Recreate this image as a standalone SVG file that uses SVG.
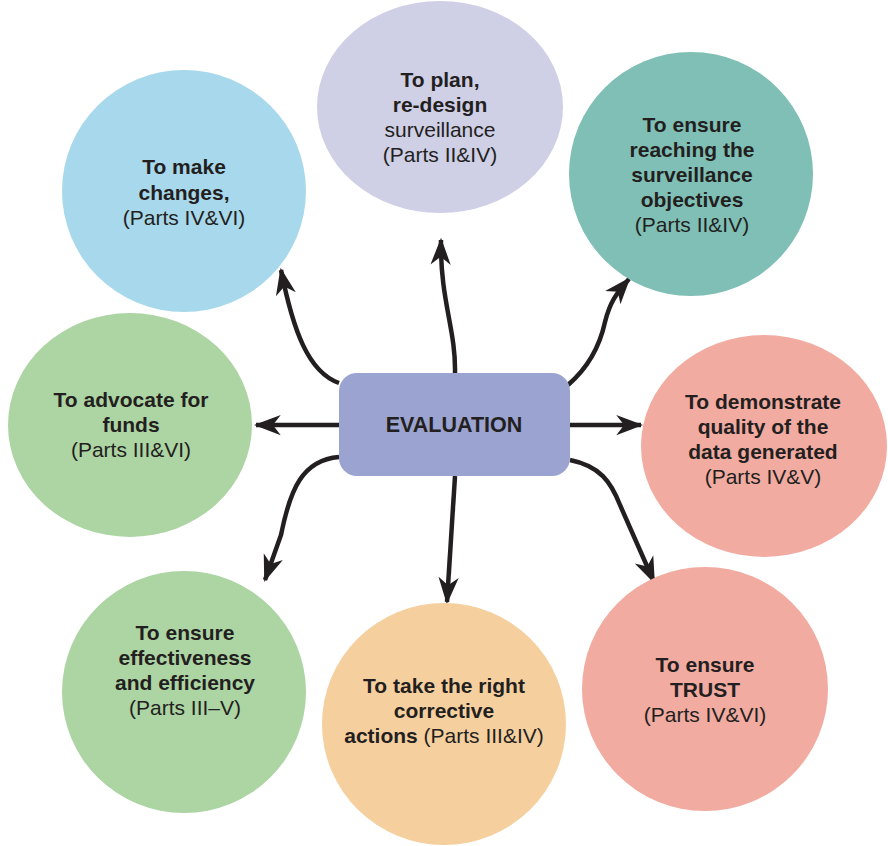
<svg xmlns="http://www.w3.org/2000/svg" width="888" height="846" viewBox="0 0 888 846">
<style>
text{font-family:"Liberation Sans",Arial,Helvetica,sans-serif;font-size:21px;fill:#231f20;text-anchor:middle}
.b{font-weight:bold}
.e{font-size:21.5px}
.c{stroke:#231f20;stroke-width:4.5;fill:none;marker-end:url(#ah)}
</style>
<defs>
<marker id="ah" viewBox="0 0 12 10" refX="11" refY="5" markerWidth="27" markerHeight="22.5" markerUnits="userSpaceOnUse" orient="auto">
<path d="M0,0.5 L12,5 L0,9.5 L3.5,5 Z" fill="#231f20"/>
</marker>
</defs>
<rect width="888" height="846" fill="#fff"/>
<g id="connectors">
<path class="c" d="M339,383 C308,372 293,330 281,270"/>
<path class="c" d="M455,373 C456,330 440,300 441,240"/>
<path class="c" d="M568,385 C590,366 600,345 605,322 C610,302 616,294 629,279"/>
<path class="c" d="M570,425 L641,425"/>
<path class="c" d="M339,425 L256,425"/>
<path class="c" d="M339,457 C302,460 290,490 281,535 L265,580"/>
<path class="c" d="M455,476 L447,602"/>
<path class="c" d="M570,460 C600,466 611,482 620,505 L654,582"/>
</g>
<g id="plan">
<ellipse cx="440" cy="107" rx="123" ry="106" fill="#cfcfe6"/>
<text class="b" x="440" y="87">To plan,</text>
<text class="b" x="440" y="112">re-design</text>
<text x="440" y="137">surveillance</text>
<text x="440" y="162">(Parts II&amp;IV)</text>
</g>
<g id="changes">
<ellipse cx="184" cy="191" rx="122" ry="121" fill="#a8d8ec"/>
<text class="b" x="184" y="174">To make</text>
<text class="b" x="184" y="200">changes,</text>
<text x="184" y="225">(Parts IV&amp;VI)</text>
</g>
<g id="objectives">
<ellipse cx="691" cy="174" rx="122" ry="122" fill="#7fbfb5"/>
<text class="b" x="692" y="132">To ensure</text>
<text class="b" x="692" y="157">reaching the</text>
<text class="b" x="692" y="182">surveillance</text>
<text class="b" x="692" y="207">objectives</text>
<text x="692" y="232">(Parts II&amp;IV)</text>
</g>
<g id="funds">
<ellipse cx="130" cy="425" rx="122" ry="112" fill="#add4a3"/>
<text class="b" x="131" y="407">To advocate for</text>
<text class="b" x="131" y="432">funds</text>
<text x="131" y="457">(Parts III&amp;VI)</text>
</g>
<g id="quality">
<ellipse cx="764" cy="446" rx="123" ry="111" fill="#f1aba0"/>
<text class="b" x="763" y="409">To demonstrate</text>
<text class="b" x="763" y="434">quality of the</text>
<text class="b" x="763" y="459">data generated</text>
<text x="763" y="484">(Parts IV&amp;V)</text>
</g>
<g id="effectiveness">
<ellipse cx="184" cy="692" rx="122" ry="121" fill="#add4a3"/>
<text class="b" x="185" y="640">To ensure</text>
<text class="b" x="185" y="665">effectiveness</text>
<text class="b" x="185" y="690">and efficiency</text>
<text x="185" y="715">(Parts III–V)</text>
</g>
<g id="corrective">
<ellipse cx="444" cy="724" rx="122" ry="121" fill="#f6cf9f"/>
<text class="b" x="444" y="693">To take the right</text>
<text class="b" x="444" y="718">corrective</text>
<text x="444" y="743"><tspan class="b">actions</tspan> (Parts III&amp;IV)</text>
</g>
<g id="trust">
<ellipse cx="705" cy="689" rx="123" ry="122" fill="#f1aba0"/>
<text class="b" x="705" y="672">To ensure</text>
<text class="b" x="705" y="697">TRUST</text>
<text x="705" y="722">(Parts IV&amp;VI)</text>
</g>
<g id="evaluation">
<rect x="339" y="373" width="231" height="103" rx="18" fill="#9ba3d0"/>
<text class="b e" x="454" y="432">EVALUATION</text>
</g>
</svg>
